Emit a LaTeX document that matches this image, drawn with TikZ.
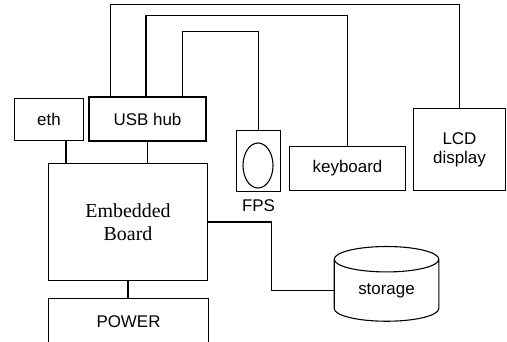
\documentclass[tikz,border=0pt]{standalone}
\usepackage{fontspec}
\setmainfont{Liberation Sans}
\newfontfamily\boardfont{Liberation Serif}
\usetikzlibrary{shapes.geometric,positioning}
\tikzset{
  blk/.style    ={rectangle,draw=black,line width=1.1pt,inner sep=0pt,
                  font=\fontsize{17}{19}\selectfont,align=center},
  blkbold/.style={blk,line width=1.8pt},
  wire/.style   ={draw=black,line width=1.1pt},
  lbl/.style    ={font=\fontsize{17}{19}\selectfont,inner sep=0pt},
}

\begin{document}
\begin{tikzpicture}[x=1bp, y=-1bp]
\clip (0,0) rectangle (507,341);

\node[blk,minimum width=70,minimum height=43]      (eth)   at (49,119.5)  {eth};
\node[blkbold,minimum width=117,minimum height=44] (usb)   at (147.5,119) {USB hub};
\node[blk,minimum width=160,minimum height=118,
      font=\boardfont\fontsize{20}{23}\selectfont]  (board) at (128,222)   {Embedded\\Board};
\node[blk,minimum width=161,minimum height=48]     (power) at (128.5,322) {POWER};

\node[blk,minimum width=45,minimum height=62]      (fps)   at (258.5,161) {};
\draw[line width=1.1pt] (258,165.5) ellipse [x radius=15,y radius=22.5];
\node[lbl,below=7pt of fps]                        (fpslbl) {FPS};

\node[blk,minimum width=117,minimum height=45]     (kbd)   at (347.5,168.5) {keyboard};
\node[blk,minimum width=93,minimum height=83]      (lcd)   at (459.5,149.5) {LCD\\display};

\node[blk,cylinder,shape border rotate=90,aspect=0.45,
      minimum width=105,minimum height=75]          (storage) at (386.5,290.5) {storage};

%% board links
\coordinate (ethport) at ([xshift=17bp]eth.south);
\draw[wire] (ethport) -- (board.north -| ethport);
\draw[wire] (usb.south) -- (board.north -| usb.south);
\draw[wire] (board.south) -- (power.north -| board.south);
\draw[wire] (board.east) -- ++(63,0) |- (storage.west);

%% usb cables
\draw[wire] ([xshift=22bp]usb.north west) -- ++(0,-92) -| (lcd.north);
\draw[wire] ([xshift=-1.5bp]usb.north) -- ++(0,-81) -| (kbd.north);
\draw[wire] ([xshift=-24bp]usb.north east) -- ++(0,-65) -| (fps.north);

\end{tikzpicture}
\end{document}
